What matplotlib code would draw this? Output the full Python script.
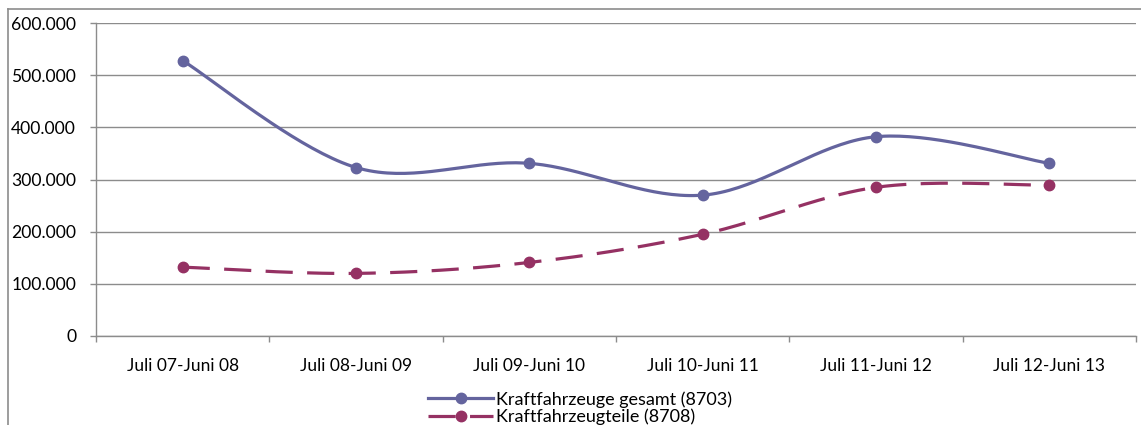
import numpy as np
import matplotlib
matplotlib.use("Agg")
import matplotlib.pyplot as plt
from matplotlib.lines import Line2D
from matplotlib.ticker import FuncFormatter

categories = ["Juli 07-Juni 08", "Juli 08-Juni 09", "Juli 09-Juni 10",
              "Juli 10-Juni 11", "Juli 11-Juni 12", "Juli 12-Juni 13"]
kfz_gesamt = [528000, 323000, 331000, 270000, 382000, 331000]
kfz_teile = [132000, 120000, 141000, 195000, 285000, 289000]
labels = ["Kraftfahrzeuge gesamt (8703)", "Kraftfahrzeugteile (8708)"]

plt.rcParams['font.family'] = ['Lato', 'DejaVu Sans']

W, H = 1141, 425
fig = plt.figure(figsize=(W / 100, H / 100), dpi=100)
ax = fig.add_axes([96 / W, (H - 336) / H, (1136 - 96) / W, (336 - 23) / H])

def smooth(xs, ys, n=40):
    xs = np.asarray(xs, float); ys = np.asarray(ys, float)
    P = np.column_stack([xs, ys])
    out = []
    for i in range(len(P) - 1):
        p0 = P[i - 1] if i > 0 else P[i]
        p1 = P[i]; p2 = P[i + 1]
        p3 = P[i + 2] if i + 2 < len(P) else P[i + 1]
        c1 = p1 + (p2 - p0) / 6.0
        c2 = p2 - (p3 - p1) / 6.0
        t = np.linspace(0, 1, n)[:, None]
        seg = ((1 - t) ** 3) * p1 + 3 * ((1 - t) ** 2) * t * c1 + 3 * (1 - t) * t ** 2 * c2 + t ** 3 * p2
        out.append(seg if i == 0 else seg[1:])
    S = np.vstack(out)
    return S[:, 0], S[:, 1]

x = np.arange(len(categories))
c1 = "#64649e"
c2 = "#953163"
lw = 2.3
ms = 7.5
dash = (8.5, 4.5)

sx, sy = smooth(x, kfz_gesamt)
ax.plot(sx, sy, color=c1, lw=lw, solid_capstyle='round', zorder=3)
ax.plot(x, kfz_gesamt, 'o', color=c1, ms=ms, zorder=4)

sx, sy = smooth(x, kfz_teile)
ax.plot(sx, sy, color=c2, lw=lw, dashes=dash, zorder=3)
ax.plot(x, kfz_teile, 'o', color=c2, ms=ms, zorder=4)

ax.set_xlim(-0.5, len(categories) - 0.5)
ax.set_ylim(0, 600000)
ax.set_yticks(np.arange(0, 600001, 100000))
ax.yaxis.set_major_formatter(FuncFormatter(lambda v, p: "0" if v == 0 else f"{int(v):,}".replace(",", ".")))
ax.grid(axis='y', color='#8c8c8c', lw=1)
ax.set_axisbelow(True)
ax.set_xticks(x)
ax.set_xticklabels(categories)
ax.set_xticks(np.arange(-0.5, len(categories)), minor=True)
ax.tick_params(axis='x', which='major', length=0, pad=16, labelsize=12.5)
ax.tick_params(axis='x', which='minor', length=4.3, color='#8c8c8c', width=1)
ax.tick_params(axis='y', length=4.3, color='#8c8c8c', width=1, labelsize=12.6, pad=10)
for s in ['top', 'right']:
    ax.spines[s].set_visible(False)
for s in ['left', 'bottom']:
    ax.spines[s].set_color('#8c8c8c')
    ax.spines[s].set_linewidth(1)

# chart frame
fig.add_artist(Line2D([8 / W, 8 / W], [0, 1 - 9 / H], color='#8c8c8c', lw=1.2))
fig.add_artist(Line2D([8 / W, 1], [1 - 9 / H, 1 - 9 / H], color='#8c8c8c', lw=1.2))

h1 = Line2D([], [], color=c1, lw=lw, marker='o', ms=ms)
h2 = Line2D([], [], color=c2, lw=lw, marker='o', ms=ms, dashes=dash)
fig.legend([h1, h2], labels, loc='upper left', bbox_to_anchor=(428 / W, 1 - 391 / H),
           frameon=False, borderpad=0, handlelength=3.6, handletextpad=0.15,
           labelspacing=0.05, fontsize=13, borderaxespad=0)

fig.savefig("out.png", dpi=100)
